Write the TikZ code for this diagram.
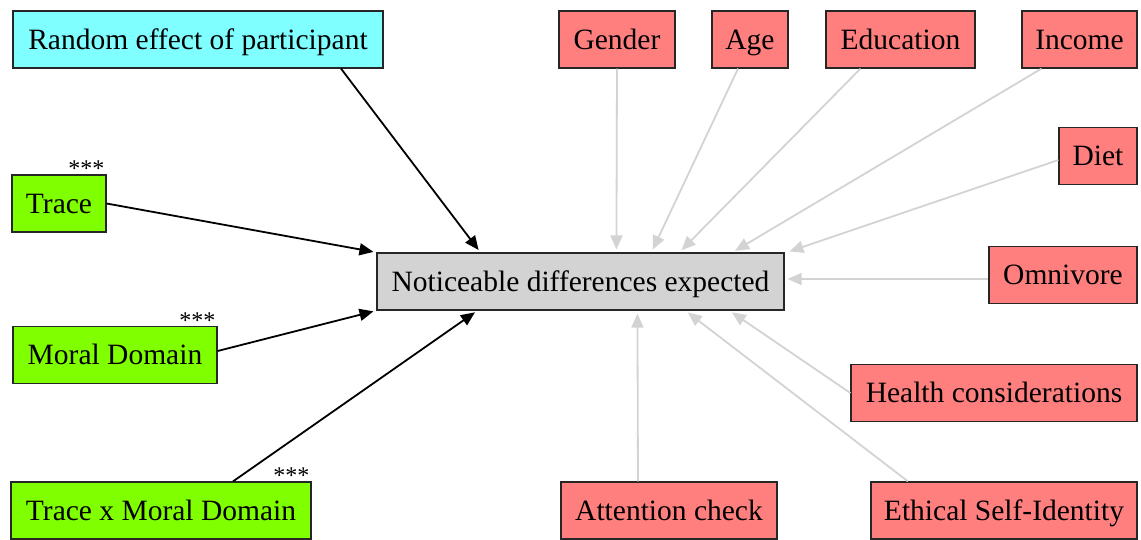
\documentclass[tikz,border=0pt]{standalone}
\usepackage{fontspec}
\setmainfont{Liberation Serif}
\usetikzlibrary{arrows.meta}
\definecolor{rndcol}{RGB}{127,255,255}
\definecolor{predcol}{RGB}{127,255,0}
\definecolor{ctlcol}{RGB}{255,127,127}
\definecolor{dvcol}{RGB}{211,211,211}
\definecolor{edgegray}{RGB}{211,211,211}

\begin{document}
\begin{tikzpicture}[x=1pt, y=-1pt,
	box/.style={draw=black!85, line width=1.2pt, minimum height=57pt, inner sep=0pt,
		text height=21pt, text depth=2pt, font=\fontsize{29.5}{34}\selectfont},
	rndbox/.style={box, fill=rndcol},
	predbox/.style={box, fill=predcol},
	ctlbox/.style={box, fill=ctlcol},
	dvbox/.style={box, fill=dvcol},
	sig/.style={label={[anchor=base east, xshift=-2pt, yshift=-2.5pt, inner sep=0pt,
		font=\fontsize{24}{26}\selectfont]north east:***}},
	effect/.style={line width=1.8pt, draw=black, shorten >=3pt,
		-{Triangle[length=14pt, width=12pt]}},
	ctrl/.style={line width=1.8pt, draw=edgegray, shorten >=3pt,
		-{Triangle[length=14pt, width=12pt]}}]
		%%%%% START %%%%%
		
		\useasboundingbox (0, 0) rectangle (1141, 539);
		
		% outcome
		\node[dvbox, minimum width=407pt] (ctr) at (580.5, 281.5) {Noticeable differences expected};
		
		% random effect and predictors
		\node[rndbox, minimum width=370pt] (rnd) at (198, 39.5) {Random effect of participant};
		\node[predbox, sig, minimum width=94pt] (trace) at (59, 203.5) {Trace};
		\node[predbox, sig, minimum width=204pt] (moral) at (115, 355) {Moral Domain};
		\node[predbox, sig, minimum width=300pt] (txm) at (161, 510.5) {Trace x Moral Domain};
		
		% controls
		\node[ctlbox, minimum width=116pt] (gender) at (617, 39.5) {Gender};
		\node[ctlbox, minimum width=76pt] (age) at (750, 39.5) {Age};
		\node[ctlbox, minimum width=149pt] (edu) at (900.5, 39.5) {Education};
		\node[ctlbox, minimum width=115pt] (income) at (1079.5, 39.5) {Income};
		\node[ctlbox, minimum width=78pt] (diet) at (1098, 156) {Diet};
		\node[ctlbox, minimum width=148pt] (omni) at (1063, 275) {Omnivore};
		\node[ctlbox, minimum width=286pt] (health) at (994, 393) {Health considerations};
		\node[ctlbox, minimum width=216pt] (attn) at (669, 510.5) {Attention check};
		\node[ctlbox, minimum width=266pt] (ethic) at (1004, 510.5) {Ethical Self-Identity};
		
		% black effects
		\draw[effect] ([xshift=143pt]rnd.south) -- ([xshift=104pt]ctr.north west);
		\draw[effect] (trace.east) -- (ctr.north west);
		\draw[effect] ([yshift=4pt]moral.east) -- (ctr.south west);
		\draw[effect] ([xshift=72pt]txm.north) -- ([xshift=101pt]ctr.south west);
		
		% gray controls
		\draw[ctrl] (gender.south) -- ([xshift=240pt]ctr.north west);
		\draw[ctrl] ([xshift=-12pt]age.south) -- ([xshift=275pt]ctr.north west);
		\draw[ctrl] ([xshift=-40pt]edu.south) -- ([xshift=303pt]ctr.north west);
		\draw[ctrl] ([xshift=-38pt]income.south) -- ([xshift=356pt]ctr.north west);
		\draw[ctrl] ([yshift=-4pt]diet.west) -- ([xshift=2pt]ctr.north east);
		\draw[ctrl] ([yshift=-4pt]omni.west) -- ([yshift=2.5pt]ctr.east);
		\draw[ctrl] (health.west) -- ([xshift=353pt]ctr.south west);
		\draw[ctrl] ([xshift=-31pt]attn.north) -- ([xshift=261pt]ctr.south west);
		\draw[ctrl] ([xshift=-96pt]ethic.north) -- ([xshift=309pt]ctr.south west);
		
		%%%%% END %%%%%
\end{tikzpicture}
\end{document}
